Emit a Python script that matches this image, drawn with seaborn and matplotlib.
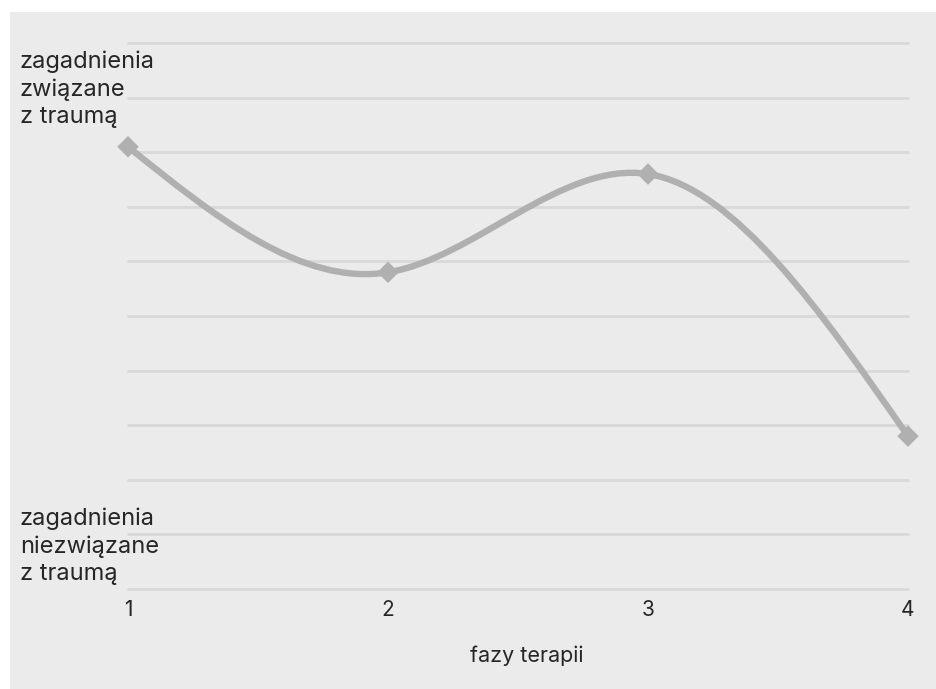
import numpy as np
import matplotlib
matplotlib.use('Agg')
import matplotlib.pyplot as plt
import matplotlib.transforms as mtrans
from matplotlib.path import Path
from matplotlib.patches import PathPatch, Rectangle
import seaborn as sns
import pandas as pd

# Data
phases = [1, 2, 3, 4]
focus = [8.1, 5.8, 7.6, 2.8]
top_label = "zagadnienia\nzwiązane\nz traumą"
bottom_label = "zagadnienia\nniezwiązane\nz traumą"
x_title = "fazy terapii"

W, H = 937, 689
BG = '#ebebeb'
GRID = '#d9d9d9'
LINE = '#b0b0b0'
TEXT = '#262626'

sns.set_style('white')
plt.rcParams['font.family'] = ['Inter', 'DejaVu Sans']

fig = plt.figure(figsize=(W / 100, H / 100), dpi=100)
fig.patch.set_facecolor('white')
fig.patches.append(Rectangle((10 / W, 0), 1, 1 - 12 / H, transform=fig.transFigure,
                             facecolor=BG, edgecolor='none', zorder=-10))

# axes in pixels: x 128..908, y 0 at 589 px, 10 at 43 px
pad = 0.2
unit = (589 - 43) / 10
bottom_px = 589 + pad * unit
top_px = 43 - pad * unit
ax = fig.add_axes([128 / W, 1 - bottom_px / H, (908 - 128) / W, (bottom_px - top_px) / H])
ax.set_facecolor('none')
ax.set_xlim(1, 4)
ax.set_ylim(-pad, 10 + pad)
for s in ax.spines.values():
    s.set_visible(False)

for yv in range(11):
    ax.axhline(yv, color=GRID, lw=2.0, zorder=1, clip_on=False)


def natural_spline_path(xs, ys):
    """Natural cubic spline through the points, as a chain of Bezier curves."""
    xs = np.asarray(xs, float)
    ys = np.asarray(ys, float)
    n = len(xs)
    h = np.diff(xs)
    A = np.zeros((n, n))
    b = np.zeros(n)
    A[0, 0] = A[-1, -1] = 1
    for i in range(1, n - 1):
        A[i, i - 1] = h[i - 1]
        A[i, i] = 2 * (h[i - 1] + h[i])
        A[i, i + 1] = h[i]
        b[i] = 6 * ((ys[i + 1] - ys[i]) / h[i] - (ys[i] - ys[i - 1]) / h[i - 1])
    M = np.linalg.solve(A, b)
    d = np.zeros(n)
    for i in range(n - 1):
        d[i] = (ys[i + 1] - ys[i]) / h[i] - h[i] * (2 * M[i] + M[i + 1]) / 6
    d[-1] = (ys[-1] - ys[-2]) / h[-1] + h[-1] * (M[-2] + 2 * M[-1]) / 6
    verts = [(xs[0], ys[0])]
    codes = [Path.MOVETO]
    for i in range(n - 1):
        k = h[i] / 3
        verts += [(xs[i] + k, ys[i] + d[i] * k),
                  (xs[i + 1] - k, ys[i + 1] - d[i + 1] * k),
                  (xs[i + 1], ys[i + 1])]
        codes += [Path.CURVE4] * 3
    return Path(verts, codes)


ax.add_patch(PathPatch(natural_spline_path(phases, focus), facecolor='none', edgecolor=LINE,
                       lw=4.6, capstyle='butt', zorder=3, clip_on=False))

df = pd.DataFrame({'faza': phases, 'wartosc': focus})
sns.scatterplot(data=df, x='faza', y='wartosc', marker='D', s=120, color=LINE,
                edgecolor='none', ax=ax, zorder=4, clip_on=False, legend=False)

ax.set_xticks(phases)
ax.set_xticklabels([str(p) for p in phases], fontsize=15, color=TEXT)
ax.tick_params(axis='x', length=0, pad=0)
ax.set_yticks([])
ax.set_xlabel('')
ax.set_ylabel('')

fig.text(527 / W, 1 - 656 / H, x_title, ha='center', va='center', fontsize=15.5, color=TEXT)

blend = mtrans.blended_transform_factory(fig.transFigure, ax.transData)
ax.text(20 / W, 9.15, top_label, transform=blend, ha='left', va='center',
        fontsize=17, color=TEXT, linespacing=1.3)
ax.text(20 / W, 0.78, bottom_label, transform=blend, ha='left', va='center',
        fontsize=17, color=TEXT, linespacing=1.3)

fig.savefig('out.png', dpi=100)
